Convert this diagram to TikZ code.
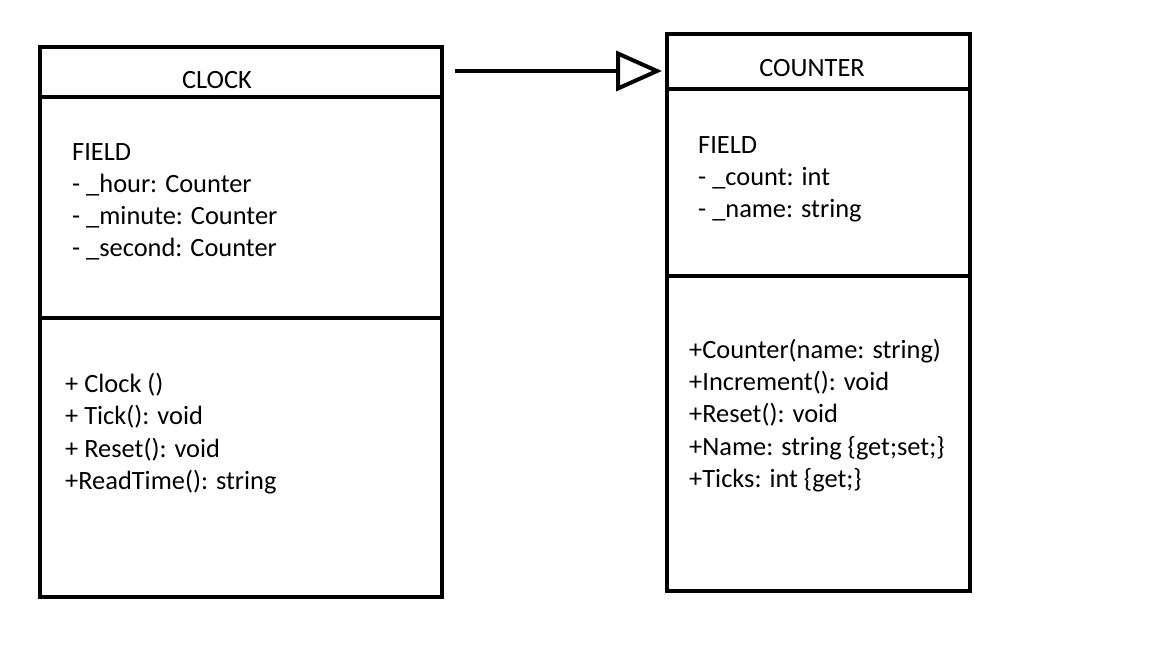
\documentclass[tikz,border=0pt]{standalone}
\usepackage{fontspec}
\setmainfont{Carlito}
\usetikzlibrary{arrows.meta,calc}
\begin{document}
\begin{tikzpicture}[x=1pt,y=-1pt,
  classbox/.style={draw=black,line width=4pt,inner sep=0pt,outer sep=0pt},
  divider/.style={draw=black,line width=4pt},
  txt/.style={anchor=base west,inner sep=0pt,font=\fontsize{26.4}{32}\selectfont},
  ttl/.style={anchor=base,inner sep=0pt,font=\fontsize{26.4}{32}\selectfont},
  gen/.style={draw=black,line width=4pt,-{Triangle[open,length=46pt,width=40pt,line width=4pt]}}]
\useasboundingbox (0,0) rectangle (1152,648);
% boxes
\node[classbox,minimum width=402pt,minimum height=550pt] (clock) at (241,322) {};
\node[classbox,minimum width=303pt,minimum height=557pt] (counter) at (818.5,312.5) {};
% dividers
\draw[divider] (clock.west |- 0,97) -- (clock.east |- 0,97);
\draw[divider] (clock.west |- 0,318) -- (clock.east |- 0,318);
\draw[divider] (counter.west |- 0,89) -- (counter.east |- 0,89);
\draw[divider] (counter.west |- 0,276) -- (counter.east |- 0,276);
% titles
\node[ttl] (clocktitle) at (217,88) {CLOCK};
\node[ttl] (countertitle) at (812,76) {COUNTER};
% clock fields
\node[txt] (cf0) at (72,160) {FIELD};
\node[txt] (cf1) at (72,192) {- \_hour: Counter};
\node[txt] (cf2) at (72,224) {- \_minute: Counter};
\node[txt] (cf3) at (72,256) {- \_second: Counter};
% clock methods
\node[txt] (cm1) at (65,392) {+ Clock ()};
\node[txt] (cm2) at (65,424) {+ Tick(): void};
\node[txt] (cm3) at (65,457) {+ Reset(): void};
\node[txt] (cm4) at (65,489) {+ReadTime(): string};
% counter fields
\node[txt] (nf0) at (698,153) {FIELD};
\node[txt] (nf1) at (698,185) {- \_count: int};
\node[txt] (nf2) at (698,217) {- \_name: string};
% counter methods
\node[txt] (nm1) at (689,358) {+Counter(name: string)};
\node[txt] (nm2) at (689,390) {+Increment(): void};
\node[txt] (nm3) at (689,422) {+Reset(): void};
\node[txt] (nm4) at (689,455) {+Name: string \{get;set;\}};
\node[txt] (nm5) at (689,487) {+Ticks: int \{get;\}};
% generalisation arrow
\coordinate (astart) at (455,71);
\coordinate (aend) at ($(counter.west |- astart)+(-5,0)$);
\draw[gen] (astart) -- (aend);
\end{tikzpicture}
\end{document}
